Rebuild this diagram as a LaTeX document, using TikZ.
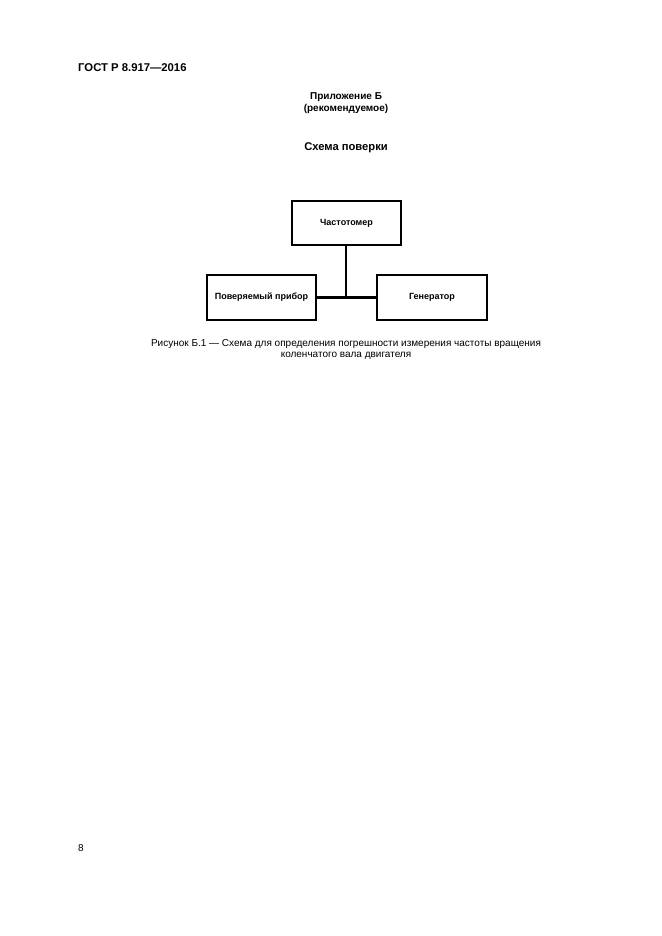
\documentclass[tikz,border=0pt]{standalone}
\usepackage{fontspec}
\setmainfont{Liberation Sans}
\begin{document}
\begin{tikzpicture}[x=1pt,y=-1pt,
  blk/.style={draw=black,line width=1.8pt,inner sep=0pt,font=\fontsize{9}{10}\selectfont\bfseries},
  conn/.style={line width=2.6pt},
  txt/.style={inner sep=0pt,font=\fontsize{10}{12}\selectfont},
  btxt/.style={inner sep=0pt,font=\fontsize{10}{12}\selectfont\bfseries}]
\useasboundingbox[fill=white] (0,0) rectangle (661,936);
\node[btxt,anchor=west,font=\fontsize{11.3}{13}\selectfont\bfseries] (hdr) at (78,68) {ГОСТ Р 8.917—2016};
\node[btxt] (app) at (346,97) {Приложение Б};
\node[btxt] (rec) at (346,109) {(рекомендуемое)};
\node[btxt,font=\fontsize{11.2}{13}\selectfont\bfseries] (title) at (346,148) {Схема поверки};
\node[blk,minimum width=109pt,minimum height=44pt] (freq) at (346.5,223) {Частотомер};
\node[blk,minimum width=109pt,minimum height=45pt] (dut) at (261.5,297.5) {Поверяемый прибор};
\node[blk,minimum width=110pt,minimum height=45pt] (gen) at (432,297.5) {Генератор};
\coordinate (j) at (346,297.5);
\draw[conn] (dut.east) -- (gen.west);
\draw[conn] (freq.south -| j) -- (j);
\node[txt] (cap1) at (346,344) {Рисунок Б.1 — Схема для определения погрешности измерения частоты вращения};
\node[txt] (cap2) at (346,356) {коленчатого вала двигателя};
\node[txt,anchor=west] (pg) at (78,848) {8};
\end{tikzpicture}
\end{document}
